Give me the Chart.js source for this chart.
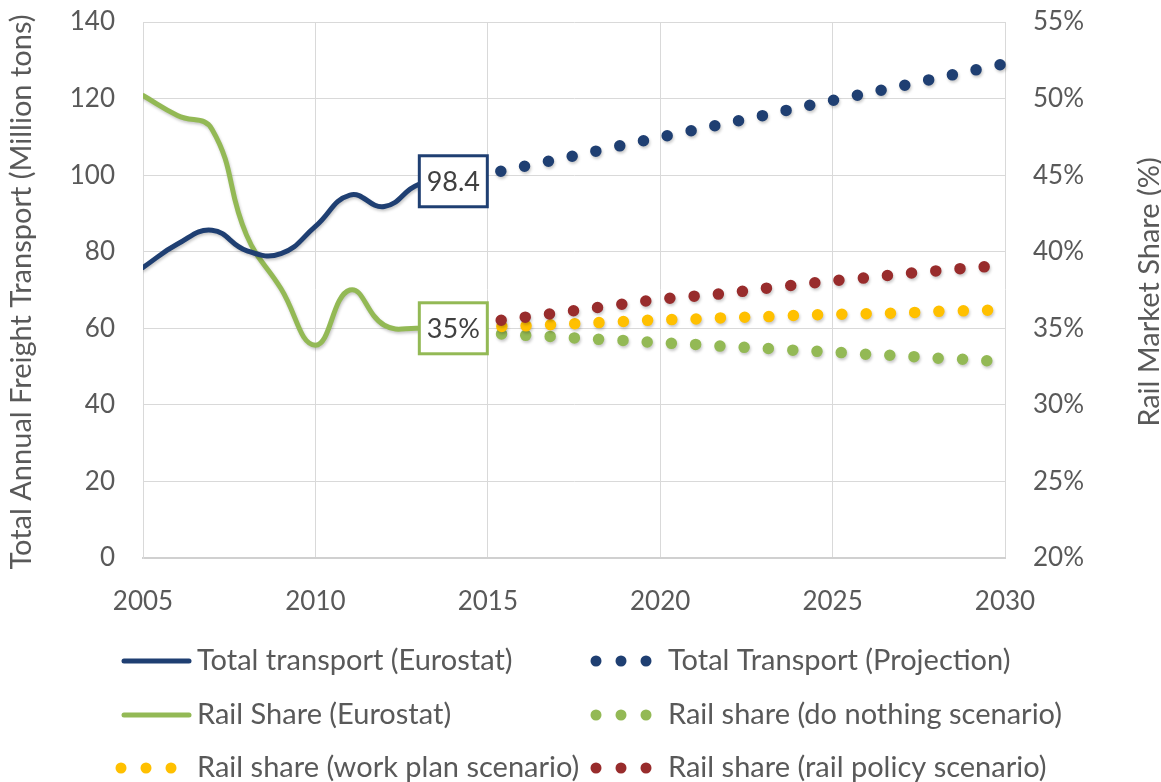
<!DOCTYPE html>
<html>
<head>
<meta charset="utf-8">
<title>Freight transport and rail market share</title>
<script src="https://cdn.jsdelivr.net/npm/chart.js@4.4.0/dist/chart.umd.min.js"></script>
<style>
  html, body { margin: 0; padding: 0; background: #fff; }
  #wrap { width: 1161px; height: 782px; }
</style>
</head>
<body>
<div id="wrap"><canvas id="chart" width="1161" height="782"></canvas></div>
<script>
// data
var eurostatYears = [2005, 2006, 2007, 2008, 2009, 2010, 2011, 2012, 2013, 2014];
var totalEurostat = [75.9, 82.0, 85.6, 80.3, 79.5, 86.6, 94.8, 91.8, 97.6, 98.4];
var railEurostat = [50.2, 48.9, 48.0, 41.1, 37.6, 33.9, 37.5, 35.2, 35.0, 35.0];

var projectionYears = [2014, 2015, 2016, 2017, 2018, 2019, 2020, 2021, 2022,
    2023, 2024, 2025, 2026, 2027, 2028, 2029, 2030];
var totalProjection = [98.4, 100.3, 102.2, 104.1, 106.0, 108.0, 109.9, 111.8, 113.7,
    115.6, 117.6, 119.5, 121.4, 123.3, 125.3, 127.2, 129.1];
var railDoNothing = [35.0, 34.7, 34.55, 34.45, 34.3, 34.2, 34.05, 33.95, 33.8,
    33.7, 33.55, 33.45, 33.3, 33.2, 33.05, 32.95, 32.8];
var railWorkPlan = [35.0, 35.1, 35.15, 35.25, 35.35, 35.45, 35.55, 35.6, 35.7,
    35.75, 35.85, 35.9, 35.95, 36.0, 36.1, 36.15, 36.2];
var railPolicy = [35.0, 35.4, 35.7, 36.0, 36.3, 36.6, 36.9, 37.1, 37.3,
    37.6, 37.85, 38.1, 38.3, 38.55, 38.75, 38.95, 39.1];

// tick labels
var yearTicks = [2005, 2010, 2015, 2020, 2025, 2030];
var freightTicks = [0, 20, 40, 60, 80, 100, 120, 140];
var shareTicks = [20, 25, 30, 35, 40, 45, 50, 55];

var leftTitle = 'Total Annual Freight Transport (Million tons)';
var rightTitle = 'Rail Market Share (%)';

// colours
var NAVY = '#1f3f72';
var GREEN = '#93b955';
var YELLOW = '#ffc000';
var RED = '#982c2c';
var GREY_TEXT = '#595959';
var FONT = 'Lato, "Open Sans", sans-serif';

// helpers
var toPoints = function (xs, ys) {
    return xs.map(function (x, i) {
        return { x: x, y: ys[i] };
    });
};

var fixedTicks = function (values) {
    return function (scale) {
        scale.ticks = values.map(function (v) {
            return { value: v };
        });
    };
};

// pin the axis size and drop the label overhang padding
var fixedSize = function (prop, size) {
    return function (scale) {
        scale[prop] = size;
        scale.paddingTop = 0;
        scale.paddingBottom = 0;
        scale.paddingLeft = 0;
        scale.paddingRight = 0;
    };
};

var solidLine = function (label, xs, ys, color, axis, boxText) {
    return {
        label: label,
        data: toPoints(xs, ys),
        yAxisID: axis,
        borderColor: color,
        backgroundColor: color,
        borderWidth: 5,
        tension: 0.45,
        pointRadius: 0,
        borderCapStyle: 'round',
        boxText: boxText,
        order: 5
    };
};

var dottedLine = function (label, xs, ys, color, axis, order) {
    return {
        label: label,
        data: toPoints(xs, ys),
        yAxisID: axis,
        borderColor: color,
        backgroundColor: color,
        borderWidth: 11.5,
        borderDash: [0, 24.3],
        borderCapStyle: 'round',
        tension: 0.3,
        pointRadius: 0,
        clip: false,
        order: order
    };
};

// soft shadow under every series, like the office chart
var shadowPlugin = {
    id: 'shadow',
    beforeDatasetDraw: function (chart) {
        var ctx = chart.ctx;
        ctx.save();
        ctx.shadowColor = 'rgba(0,0,0,0.22)';
        ctx.shadowBlur = 3;
        ctx.shadowOffsetX = 1;
        ctx.shadowOffsetY = 2;
    },
    afterDatasetDraw: function (chart) {
        chart.ctx.restore();
    }
};

// boxed labels on the last Eurostat points
var boxLabelPlugin = {
    id: 'boxLabels',
    afterDatasetsDraw: function (chart) {
        var ctx = chart.ctx;
        chart.data.datasets.forEach(function (ds, i) {
            if (!ds.boxText) {
                return;
            }
            var meta = chart.getDatasetMeta(i);
            var pt = meta.data[meta.data.length - 1];
            var w = 68, h = 51;
            ctx.save();
            ctx.fillStyle = '#fff';
            ctx.strokeStyle = ds.borderColor;
            ctx.lineWidth = 3;
            ctx.fillRect(pt.x - w / 2, pt.y - h / 2, w, h);
            ctx.strokeRect(pt.x - w / 2, pt.y - h / 2, w, h);
            ctx.fillStyle = '#404040';
            ctx.font = '27px ' + FONT;
            ctx.textAlign = 'center';
            ctx.textBaseline = 'middle';
            ctx.fillText(ds.boxText(ds.data[ds.data.length - 1].y), pt.x, pt.y + 1);
            ctx.restore();
        });
    }
};

// axis titles (both read bottom to top) and a two column legend
var frame = {
    leftTitleX: 22,
    rightTitleX: 1150,
    titleY: 292,
    legendRows: [661, 715, 768],
    legendMarkX: [121, 596],
    legendTextX: [197, 668]
};

var decorPlugin = {
    id: 'decor',
    afterDraw: function (chart) {
        var ctx = chart.ctx;

        ctx.save();
        ctx.fillStyle = GREY_TEXT;
        ctx.font = '29px ' + FONT;
        ctx.textAlign = 'center';
        ctx.textBaseline = 'middle';
        [[frame.leftTitleX, leftTitle], [frame.rightTitleX, rightTitle]].forEach(function (t) {
            ctx.save();
            ctx.translate(t[0], frame.titleY);
            ctx.rotate(-Math.PI / 2);
            ctx.fillText(t[1], 0, 0);
            ctx.restore();
        });
        ctx.restore();

        // legend
        chart.data.datasets.forEach(function (ds, i) {
            var col = i % 2;
            var y = frame.legendRows[Math.floor(i / 2)];
            var mx = frame.legendMarkX[col];

            ctx.save();
            ctx.strokeStyle = ds.borderColor;
            ctx.fillStyle = ds.borderColor;
            if (ds.borderDash) {
                for (var k = 0; k < 3; k++) {
                    ctx.beginPath();
                    ctx.arc(mx + k * 25, y, 5.5, 0, Math.PI * 2);
                    ctx.fill();
                }
            }
            else {
                ctx.lineWidth = 5;
                ctx.lineCap = 'round';
                ctx.beginPath();
                ctx.moveTo(mx + 3, y);
                ctx.lineTo(mx + 68, y);
                ctx.stroke();
            }
            ctx.fillStyle = GREY_TEXT;
            ctx.font = '29px ' + FONT;
            ctx.textAlign = 'left';
            ctx.textBaseline = 'middle';
            ctx.fillText(ds.label, frame.legendTextX[col], y);
            ctx.restore();
        });
    }
};

window.onload = function () {
    Chart.defaults.font.family = FONT;
    Chart.defaults.color = GREY_TEXT;

    var datasets = [
        solidLine('Total transport (Eurostat)', eurostatYears, totalEurostat, NAVY, 'freight',
            function (v) { return v.toFixed(1); }),
        dottedLine('Total Transport (Projection)', projectionYears, totalProjection, NAVY, 'freight', 1),
        solidLine('Rail Share (Eurostat)', eurostatYears, railEurostat, GREEN, 'share',
            function (v) { return Math.round(v) + '%'; }),
        dottedLine('Rail share (do nothing scenario)', projectionYears, railDoNothing, GREEN, 'share', 4),
        dottedLine('Rail share (work plan scenario)', projectionYears, railWorkPlan, YELLOW, 'share', 3),
        dottedLine('Rail share (rail policy scenario)', projectionYears, railPolicy, RED, 'share', 2)
    ];

    new Chart(document.getElementById('chart'), {
        type: 'line',
        data: { datasets: datasets },
        options: {
            responsive: false,
            animation: false,
            devicePixelRatio: 1,
            layout: { padding: { top: 22, left: 0, right: 0, bottom: 154 } },
            plugins: {
                legend: { display: false },
                tooltip: { enabled: false }
            },
            scales: {
                x: {
                    type: 'linear',
                    min: 2005,
                    max: 2030,
                    afterBuildTicks: fixedTicks(yearTicks),
                    afterFit: fixedSize('height', 70),
                    grid: { color: '#d9d9d9', lineWidth: 1, drawTicks: false },
                    border: { color: '#d0d0d0', width: 2 },
                    ticks: {
                        padding: 28,
                        font: { size: 26 },
                        color: GREY_TEXT,
                        callback: function (v) { return String(v); }
                    }
                },
                freight: {
                    position: 'left',
                    min: 0,
                    max: 140,
                    afterBuildTicks: fixedTicks(freightTicks),
                    afterFit: fixedSize('width', 143),
                    grid: { color: '#d9d9d9', lineWidth: 1, drawTicks: false },
                    border: { color: '#d9d9d9' },
                    ticks: {
                        padding: 28,
                        font: { size: 26 },
                        color: GREY_TEXT
                    }
                },
                share: {
                    position: 'right',
                    min: 20,
                    max: 55,
                    afterBuildTicks: fixedTicks(shareTicks),
                    afterFit: fixedSize('width', 156),
                    grid: { display: false, drawTicks: false },
                    border: { display: false },
                    ticks: {
                        padding: 28,
                        font: { size: 26 },
                        color: GREY_TEXT,
                        callback: function (v) { return v + '%'; }
                    }
                }
            }
        },
        plugins: [shadowPlugin, boxLabelPlugin, decorPlugin]
    });
};
</script>
</body>
</html>
